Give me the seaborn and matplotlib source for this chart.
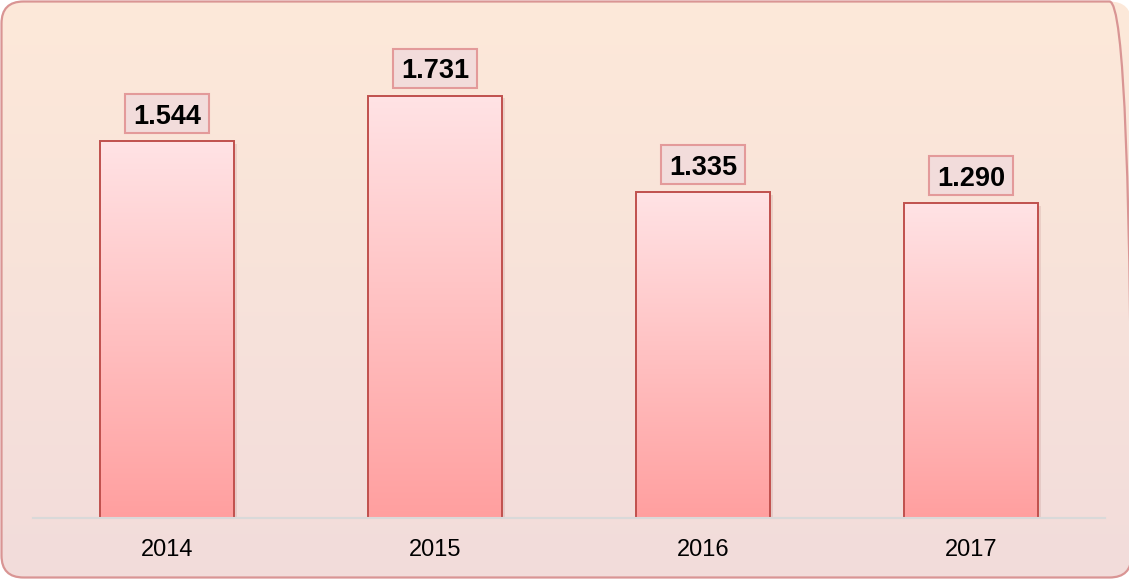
import numpy as np
import matplotlib.pyplot as plt
import seaborn as sns
from matplotlib.patches import FancyBboxPatch, Rectangle
from matplotlib.colors import LinearSegmentedColormap

# -------------------- Data --------------------
years = ["2014", "2015", "2016", "2017"]
values = [1.544, 1.731, 1.335, 1.290]
value_labels = ["1.544", "1.731", "1.335", "1.290"]

# -------------------- Style --------------------
sns.set_theme(style="white")
plt.rcParams["font.family"] = ["Liberation Sans", "DejaVu Sans"]

W, H = 1129, 579
fig = plt.figure(figsize=(W / 100, H / 100), dpi=100)
fig.patch.set_alpha(0)

# background panel with vertical gradient and rounded border
bg = fig.add_axes([0, 0, 1, 1])
bg.set_xlim(0, W)
bg.set_ylim(0, H)
bg.axis("off")
bg_cmap = LinearSegmentedColormap.from_list("bg", ["#f2dcdb", "#fde9d9"])
frame = FancyBboxPatch((1.5, 1.5), W + 1, H - 3,
                       boxstyle="round,pad=0,rounding_size=22",
                       facecolor="none", edgecolor="#d99594", linewidth=1.6, zorder=3)
bg.add_patch(frame)
grad = bg.imshow(np.linspace(0, 1, 256).reshape(-1, 1), cmap=bg_cmap, aspect="auto",
                 origin="lower", extent=(0, W, 0, H), zorder=1)
grad.set_clip_path(frame)

# -------------------- Bars --------------------
ax = fig.add_axes([33 / W, 61 / H, 1072 / W, 488 / H])
ax.patch.set_alpha(0)
sns.barplot(x=years, y=values, width=0.5, color="#ffb0b0", edgecolor="#c0504d",
            linewidth=1.4, ax=ax)

bar_cmap = LinearSegmentedColormap.from_list("bar", ["#ff9f9f", "#ffe3e5"])
for bar in ax.patches:
    x0, y0 = bar.get_x(), bar.get_y()
    w, h = bar.get_width(), bar.get_height()
    # soft shadow on the right
    ax.add_patch(Rectangle((x0 + 0.012, y0), w, h - 0.01, facecolor="#b07070",
                           alpha=0.18, edgecolor="none", zorder=1))
    img = ax.imshow(np.linspace(0, 1, 256).reshape(-1, 1), cmap=bar_cmap, aspect="auto",
                    origin="lower", extent=(x0, x0 + w, y0, y0 + h), zorder=1.5)
    img.set_clip_path(bar)
    bar.set_facecolor("none")
    bar.set_zorder(2)

ax.set_xlim(-0.5, 3.5)
ax.set_ylim(0, 2.0)

# value boxes
box_w, box_h, gap = 84 / 268, 39 / 244, 8 / 244
for i, (v, lab) in enumerate(zip(values, value_labels)):
    ax.add_patch(Rectangle((i - box_w / 2, v + gap), box_w, box_h, facecolor="#f2dcdb",
                           edgecolor="#e39a9a", linewidth=1.5, zorder=3))
    ax.text(i, v + gap + box_h / 2, lab, ha="center", va="center_baseline",
            fontsize=19.5, fontweight="bold", color="#000000", zorder=4)

# axes cosmetics
for s in ["top", "right", "left"]:
    ax.spines[s].set_visible(False)
ax.spines["bottom"].set_color("#d9d9d9")
ax.spines["bottom"].set_linewidth(1.5)
ax.set_yticks([])
ax.set_xlabel("")
ax.set_ylabel("")
ax.tick_params(axis="x", length=0, pad=15, labelsize=17, labelcolor="#000000")

plt.savefig("out.png", dpi=100)
plt.close()
